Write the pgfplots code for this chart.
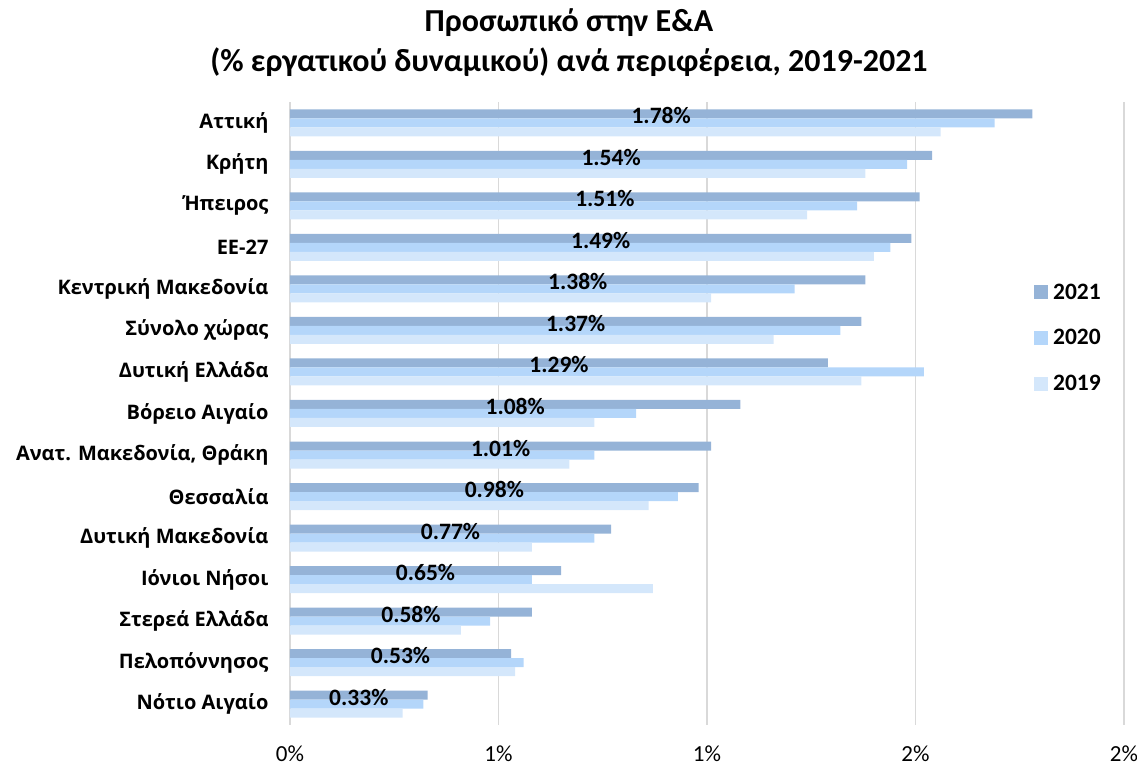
\documentclass[border=0pt]{standalone}
\usepackage{fontspec}
\setmainfont{Carlito}
\newfontfamily\catfont{Open Sans}
\usepackage{pgfplots}
\usepackage{pgfplotstable}
\pgfplotsset{compat=1.18}
\definecolor{cA}{RGB}{149,179,215}
\definecolor{cB}{RGB}{180,214,250}
\definecolor{cC}{RGB}{212,231,251}
\definecolor{gridc}{RGB}{217,217,217}
\pgfplotstableread{
y a21 a20 a19 half
14 1.78 1.69 1.56 0.890
13 1.54 1.48 1.38 0.770
12 1.51 1.36 1.24 0.755
11 1.49 1.44 1.40 0.745
10 1.38 1.21 1.01 0.690
9 1.37 1.32 1.16 0.685
8 1.29 1.52 1.37 0.645
7 1.08 0.83 0.73 0.540
6 1.01 0.73 0.67 0.505
5 0.98 0.93 0.86 0.490
4 0.77 0.73 0.58 0.385
3 0.65 0.58 0.87 0.325
2 0.58 0.48 0.41 0.290
1 0.53 0.56 0.54 0.265
0 0.33 0.32 0.27 0.165
}\datatable
\begin{document}
\begin{tikzpicture}
\useasboundingbox (0,0) rectangle (1137pt,765pt);
\node[anchor=base, font=\fontsize{32}{36}\selectfont\bfseries] at (569pt,733pt) {Προσωπικό στην Ε\&Α};
\node[anchor=base, font=\fontsize{32}{36}\selectfont\bfseries] at (569pt,693pt) {(\% εργατικού δυναμικού) ανά περιφέρεια, 2019-2021};
\begin{axis}[
  at={(290pt,40pt)}, anchor=south west,
  width=834pt, height=623pt, scale only axis,
  xmin=0, xmax=2, ymin=-0.5, ymax=14.5,
  xtick={0,0.5,1,1.5,2},
  xticklabels={0\%,1\%,1\%,2\%,2\%},
  ytick={0,...,14},
  yticklabels={Νότιο Αιγαίο,Πελοπόννησος,Στερεά Ελλάδα,Ιόνιοι Νήσοι,Δυτική Μακεδονία,Θεσσαλία,{Ανατ. Μακεδονία, Θράκη},Βόρειο Αιγαίο,Δυτική Ελλάδα,Σύνολο χώρας,Κεντρική Μακεδονία,ΕΕ-27,Ήπειρος,Κρήτη,Αττική},
  xmajorgrids, grid style={draw=gridc, line width=1.5pt},
  axis line style={draw=none},
  major tick length=0pt,
  /pgf/number format/assume math mode=true,
  xticklabel style={font=\fontsize{23}{26}\selectfont, yshift=-17pt},
  yticklabel style={font=\catfont\bfseries\fontsize{20}{24}\selectfont, xshift=-18pt},
  legend style={at={(0.892,0.712)}, anchor=north west, draw=none, fill=none,
    font=\fontsize{23.5}{26}\selectfont\bfseries, row sep=25pt, column sep=3pt, inner sep=0pt},
  legend cell align=left,
  legend image code/.code={\fill[#1] (0pt,-7pt) rectangle (14pt,7pt);},
]
\addplot[xbar, bar width=9pt, bar shift=9pt, fill=cA, draw=none] table[x=a21, y=y] {\datatable};
\addlegendentry{2021}
\addplot[xbar, bar width=9pt, bar shift=0pt, fill=cB, draw=none] table[x=a20, y=y] {\datatable};
\addlegendentry{2020}
\addplot[xbar, bar width=9pt, bar shift=-9pt, fill=cC, draw=none] table[x=a19, y=y] {\datatable};
\addlegendentry{2019}
\addplot[draw=none, forget plot, point meta=explicit,
  nodes near coords={\pgfmathprintnumber[fixed,precision=2,fixed zerofill]{\pgfplotspointmeta}\%},
  every node near coord/.append style={anchor=center, yshift=7pt, font=\fontsize{23.5}{26}\selectfont\bfseries, text=black}]
  table[x=half, y=y, meta=a21] {\datatable};
\end{axis}
\end{tikzpicture}
\end{document}
